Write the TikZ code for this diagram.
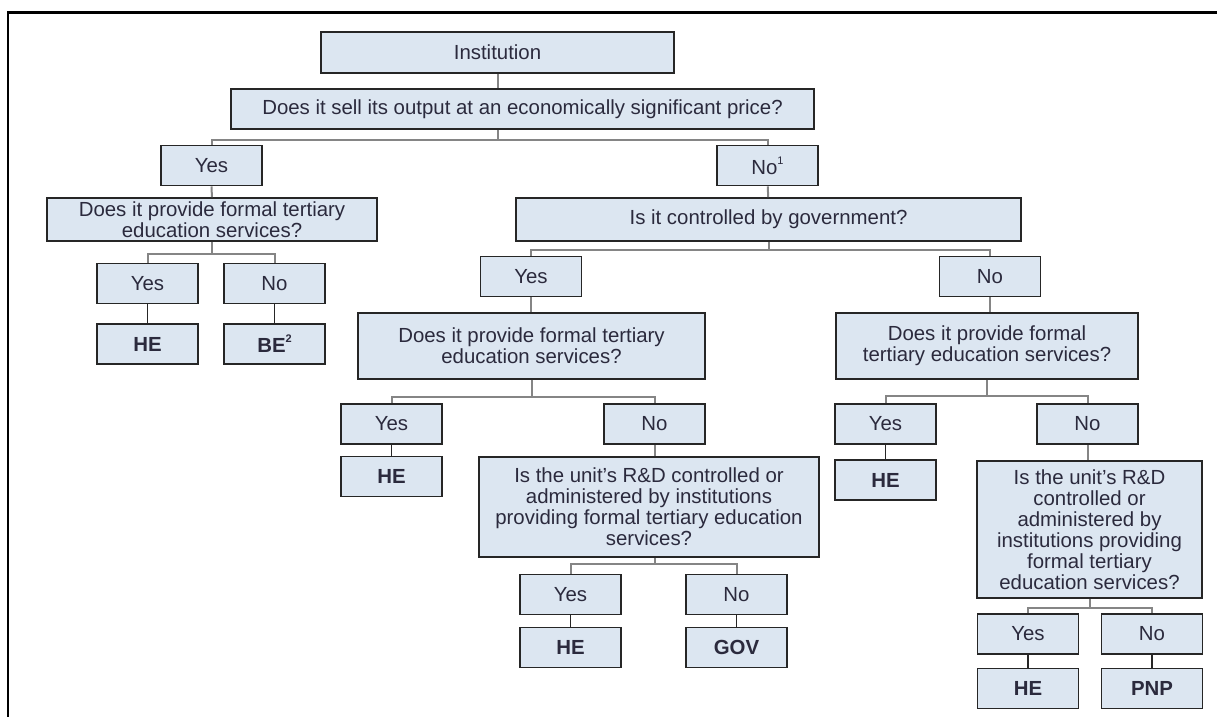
\documentclass[tikz,border=0pt]{standalone}
\usepackage{fontspec}
\setmainfont{Liberation Sans}
\usepackage{tikz}

\definecolor{boxfill}{HTML}{DCE6F1}
\definecolor{boxline}{HTML}{262626}
\definecolor{txt}{HTML}{2B2A3D}
\definecolor{linkgray}{HTML}{858585}

\newcommand{\fnmark}[1]{\raisebox{0.9ex}{\fontsize{5.5}{6}\selectfont #1}}

\tikzset{
  qbox/.style={draw=boxline,fill=boxfill,line width=0.9pt,inner sep=0pt,
    align=center,text=txt,font=\fontsize{10.2}{10.5}\selectfont},
  ans/.style={qbox,minimum width=50.5pt,minimum height=20pt},
  leaf/.style={ans,font=\fontsize{10.2}{10.5}\selectfont\bfseries},
  link/.style={draw=linkgray,line width=1pt},
  leaflink/.style={draw=boxline,line width=0.9pt}
}

\begin{document}
\begin{tikzpicture}[x=0.5pt,y=-0.5pt]
\useasboundingbox (0,0) rectangle (1217,717);
\clip (0,0) rectangle (1217,717);

% Frame
\draw[line width=1.1pt] (8,730) -- (8,12.5) -- (1230,12.5);

% Top
\node[qbox,minimum width=176.5pt,minimum height=20.5pt] (inst) at (497.5,52.5) {Institution};
\node[qbox,minimum width=291.5pt,minimum height=20pt] (sell) at (522.5,109) {Does it sell its output at an economically significant price?};
\node[ans] (yes1) at (211.5,165.5) {Yes};
\node[ans] (no1) at (767.5,165.5) {No\fnmark{1}};

% Left side
\node[qbox,minimum width=165pt,minimum height=21.5pt] (qL) at (212,219.5) {Does it provide formal tertiary\\education services?};
\node[ans] (yesL) at (147.5,283.5) {Yes};
\node[ans] (noL) at (274.5,283.5) {No};
\node[leaf] (heL) at (147.5,344) {HE};
\node[leaf] (beL) at (274.5,344) {BE\fnmark{2}};

% Government
\node[qbox,minimum width=252.5pt,minimum height=21.5pt] (qGov) at (768.5,219.5) {Is it controlled by government?};
\node[ans] (yesG) at (531,276.5) {Yes};
\node[ans] (noG) at (990,276.5) {No};

% Controlled by government
\node[qbox,minimum width=173.5pt,minimum height=33pt] (qM) at (531.5,346) {Does it provide formal tertiary\\education services?};
\node[ans] (yesM) at (391.5,424) {Yes};
\node[ans] (noM) at (654.5,424) {No};
\node[leaf] (heM) at (391.5,476.5) {HE};
\node[qbox,minimum width=170pt,minimum height=50pt] (qRD) at (649,507) {Is the unit's R\&D controlled or\\administered by institutions\\providing formal tertiary education\\services?};
\node[ans] (yesRD) at (570.5,594.5) {Yes};
\node[ans] (noRD) at (736.5,594.5) {No};
\node[leaf] (heRD) at (570.5,647.5) {HE};
\node[leaf] (gov) at (736.5,647.5) {GOV};

% Not controlled by government
\node[qbox,minimum width=151pt,minimum height=33pt] (qR) at (987,346) {Does it provide formal\\tertiary education services?};
\node[ans] (yesR) at (885.5,424) {Yes};
\node[ans] (noR) at (1087.5,424) {No};
\node[leaf] (heR) at (885.5,480) {HE};
\node[qbox,minimum width=112.5pt,minimum height=68.5pt] (qRD2) at (1089.5,529.5) {Is the unit's R\&D\\controlled or\\administered by\\institutions providing\\formal tertiary\\education services?};
\node[ans] (yesRD2) at (1028,634) {Yes};
\node[ans] (noRD2) at (1152,634) {No};
\node[leaf] (heRD2) at (1028,688.5) {HE};
\node[leaf] (pnp) at (1152,688.5) {PNP};

% Branches
\draw[link] (inst.south) -- (inst.south |- sell.north);
\draw[link] (inst.south |- sell.south) -- ++(0,10) coordinate (b0);
\draw[link] (yes1.north) |- (b0) -| (no1.north);
\draw[link] (yes1) -- (qL);
\draw[link] (no1) -- (qGov);

\draw[link] (qL.south) -- ++(0,12) coordinate (bL);
\draw[link] (yesL.north) |- (bL) -| (noL.north);
\draw[leaflink] (yesL) -- (heL);
\draw[leaflink] (noL) -- (beL);

\draw[link] (qGov.south) -- ++(0,8) coordinate (bG);
\draw[link] (yesG.north) |- (bG) -| (noG.north);
\draw[link] (yesG.south) -- (yesG.south |- qM.north);
\draw[link] (noG.south) -- (noG.south |- qR.north);

\draw[link] (qM.south) -- ++(0,17) coordinate (bM);
\draw[link] (yesM.north) |- (bM) -| (noM.north);
\draw[leaflink] (yesM) -- (heM);
\draw[link] (noM) -- (noM |- qRD.north);
\draw[link] (qRD.south -| noM) -- ++(0,6) coordinate (bRD);
\draw[link] (yesRD.north) |- (bRD) -| (noRD.north);
\draw[leaflink] (yesRD) -- (heRD);
\draw[leaflink] (noRD) -- (gov);

\draw[link] (qR.south) -- ++(0,16) coordinate (bR);
\draw[link] (yesR.north) |- (bR) -| (noR.north);
\draw[leaflink] (yesR) -- (heR);
\draw[link] (noR) -- (noR |- qRD2.north);
\draw[link] (qRD2.south) -- ++(0,9) coordinate (bRD2);
\draw[link] (yesRD2.north) |- (bRD2) -| (noRD2.north);
\draw[leaflink] (yesRD2) -- (heRD2);
\draw[leaflink] (noRD2) -- (pnp);
\end{tikzpicture}
\end{document}
